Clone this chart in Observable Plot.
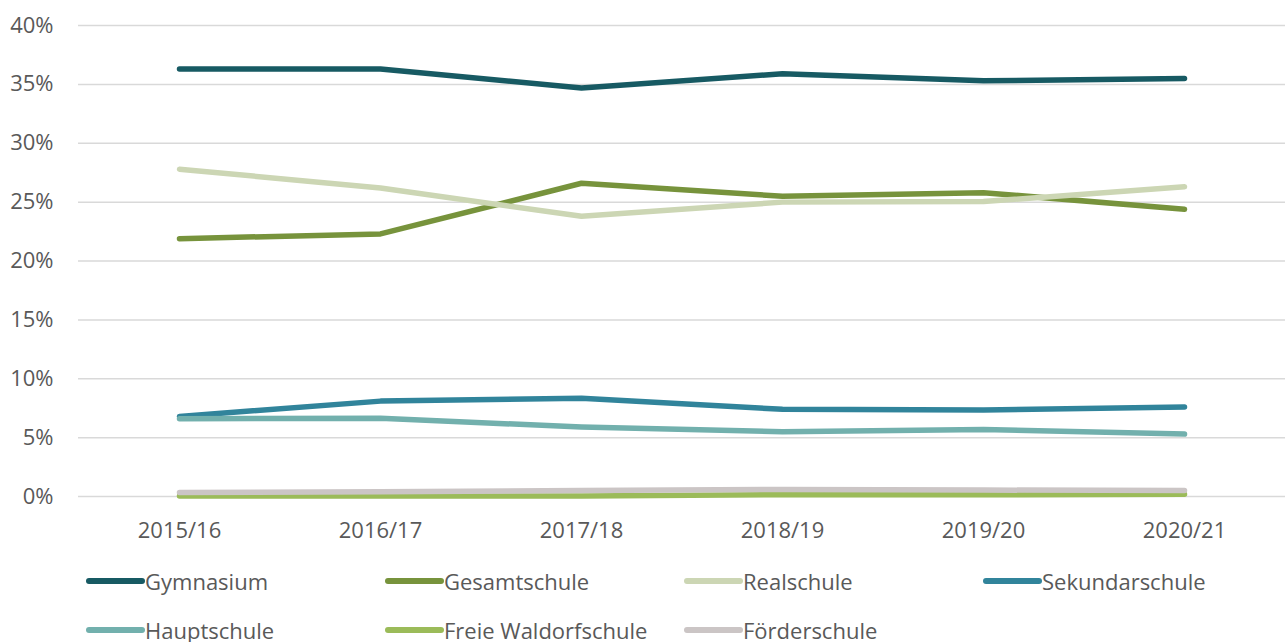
<!DOCTYPE html>
<html>
<head>
<meta charset="utf-8">
<script src="https://cdn.jsdelivr.net/npm/d3@7"></script>
<script src="https://cdn.jsdelivr.net/npm/@observablehq/plot@0.6"></script>
<style>
  body { margin: 0; background: #fff; font-family: "Open Sans", sans-serif; }
  #legend { display: grid; grid-template-columns: repeat(4, 299px); margin-left: 86px; row-gap: 0; }
  .item { display: flex; align-items: center; height: 49px; font-size: 22px; color: #595959; }
  .sw { width: 59px; height: 6px; border-radius: 3px; margin-right: 0; }
</style>
</head>
<body>
<div id="chart"></div>
<div id="legend"></div>
<script>
const years = ["2015/16", "2016/17", "2017/18", "2018/19", "2019/20", "2020/21"];
const seriesNames = ["Gymnasium", "Gesamtschule", "Realschule", "Sekundarschule", "Hauptschule", "Freie Waldorfschule", "Förderschule"];
const gymnasium = [36.3, 36.3, 34.7, 35.9, 35.3, 35.5];
const gesamtschule = [21.9, 22.3, 26.6, 25.5, 25.8, 24.4];
const realschule = [27.8, 26.2, 23.8, 25.0, 25.05, 26.3];
const sekundarschule = [6.8, 8.1, 8.35, 7.4, 7.35, 7.6];
const hauptschule = [6.6, 6.65, 5.9, 5.5, 5.7, 5.3];
const waldorfschule = [0.05, 0.05, 0.05, 0.15, 0.15, 0.2];
const foerderschule = [0.35, 0.4, 0.5, 0.6, 0.55, 0.5];
const yTicks = [0, 5, 10, 15, 20, 25, 30, 35, 40];
const colors = ["#175a63", "#77933c", "#ccd6b4", "#31849b", "#72b0ad", "#9bbb59", "#cbc5c5"];

const valuesBySeries = [gymnasium, gesamtschule, realschule, sekundarschule, hauptschule, waldorfschule, foerderschule];
const data = [];
seriesNames.forEach((s, i) => years.forEach((y, j) => data.push({series: s, year: y, value: valuesBySeries[i][j]})));

const chart = Plot.plot({
  width: 1285,
  height: 556,
  marginLeft: 78,
  marginRight: 0,
  marginTop: 25,
  marginBottom: 60,
  style: {fontFamily: "Open Sans, sans-serif", fontSize: "22px", color: "#595959", background: "#fff"},
  x: {type: "point", domain: years, padding: 0.5, label: null},
  y: {domain: [0, 40], label: null},
  color: {domain: seriesNames, range: colors},
  marks: [
    Plot.ruleY(yTicks, {stroke: "#d9d9d9", strokeWidth: 1.5}),
    Plot.axisY(yTicks, {tickSize: 0, tickPadding: 25, tickFormat: d => d + "%", label: null, fill: "#595959"}),
    Plot.axisX({tickSize: 0, tickPadding: 26, label: null, fill: "#595959"}),
    Plot.line(data, {x: "year", y: "value", z: "series", stroke: "series", strokeWidth: 5.5, strokeLinecap: "round", strokeLinejoin: "round"})
  ]
});
document.getElementById("chart").appendChild(chart);

const legend = document.getElementById("legend");
seriesNames.forEach((s, i) => {
  const it = document.createElement("div");
  it.className = "item";
  const sw = document.createElement("span");
  sw.className = "sw";
  sw.style.background = colors[i];
  const t = document.createElement("span");
  t.textContent = s;
  it.appendChild(sw);
  it.appendChild(t);
  legend.appendChild(it);
});
</script>
</body>
</html>
